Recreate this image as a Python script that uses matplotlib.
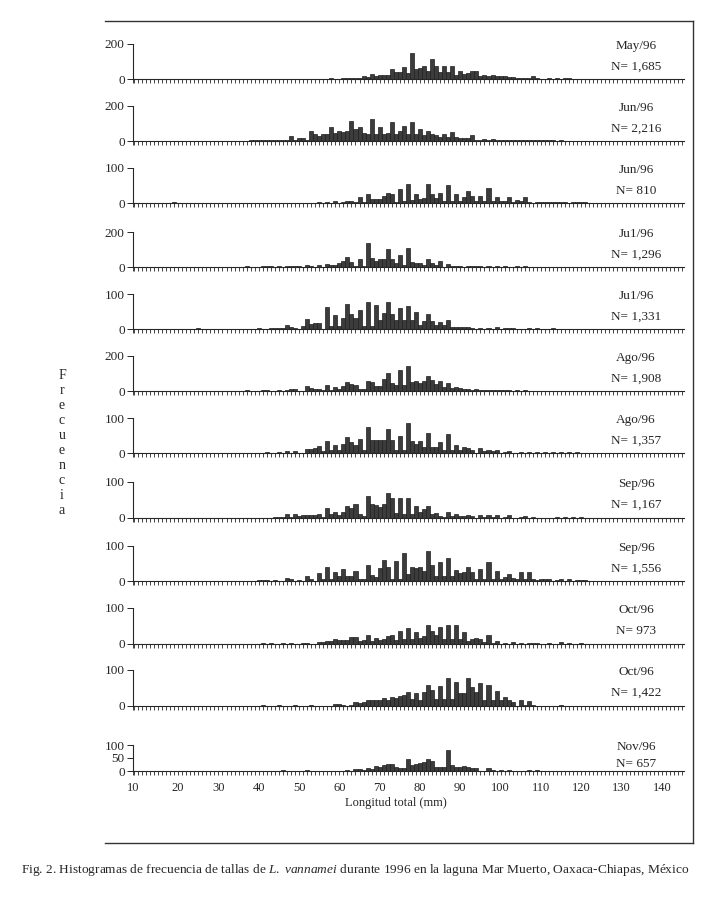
import numpy as np
import matplotlib.pyplot as plt
from matplotlib.ticker import MultipleLocator
from matplotlib.lines import Line2D

plt.rcParams['font.family'] = ['Liberation Serif', 'DejaVu Serif']
plt.rcParams['mathtext.fontset'] = 'custom'
plt.rcParams['mathtext.rm'] = 'Liberation Serif'
plt.rcParams['mathtext.it'] = 'Liberation Serif:italic'

# longitud total (mm), una clase por mm, de 10 a 125
longitud = np.arange(10, 126)

# frecuencias por clase de talla (filas de 10 mm)
may96 = [0,0,0,0,0,0,0,0,0,0, 0,0,0,0,0,0,0,0,0,0, 0,0,0,0,0,0,0,0,0,0,
         0,0,0,0,0,0,0,0,0,0, 0,0,0,0,0,0,2,2,5,2,
         2,4,5,3,5,5,15,10,28,18, 25,22,22,60,38,40,70,35,148,55,
         62,72,45,112,75,42,72,40,72,22, 45,30,35,45,45,18,22,15,25,15,
         20,15,10,14,6,5,3,3,18,3, 2,2,7,0,4,0,4,4,0,0, 0,2,0,0,0,0]
jun96a = [0,0,0,0,0,0,0,0,0,0, 0,0,0,0,0,0,0,0,0,0, 0,0,0,0,0,0,0,0,3,3,
          3,5,5,5,6,6,8,5,28,5, 18,16,8,60,38,30,42,40,80,45,
          60,50,60,115,68,78,45,40,125,40, 78,38,45,110,40,58,85,38,110,40,
          68,35,60,40,32,22,38,25,50,22, 18,18,15,32,8,8,10,6,14,5,
          4,5,4,5,3,4,3,4,3,3, 4,3,3,4,2,3,0,2,0,0, 0,0,0,0,0,0]
jun96b = [0,0,0,0,0,0,0,0,0,3, 0,0,0,0,0,0,0,0,0,0, 0,0,0,0,0,0,0,0,0,0,
          0,0,0,0,0,0,0,0,0,0, 0,0,0,0,0,2,0,4,0,5,
          0,3,5,7,3,18,3,25,11,11, 11,20,28,25,3,40,7,55,9,27,
          11,14,55,27,14,28,7,52,7,25, 7,16,35,20,7,20,5,42,7,16,
          7,7,16,4,9,5,16,4,0,3, 2,2,2,2,2,2,2,0,3,2, 2,2,0,0,0,0]
jul96a = [0,0,0,0,0,0,0,0,0,0, 0,0,0,0,0,0,0,0,0,0, 0,0,0,0,0,0,0,4,0,0,
          0,4,4,4,0,4,0,8,6,6, 6,0,12,3,0,10,0,16,14,14,
          24,36,55,28,8,46,8,140,52,36, 45,45,105,45,25,70,10,110,28,22,
          22,12,45,24,10,36,2,18,5,4, 4,0,6,4,4,4,0,4,0,3,
          0,3,0,0,4,0,3,0,0,0, 0,0,0,0,0,0,0,0,0,0, 0,0,0,0,0,0]
jul96b = [0,0,0,0,0,0,0,0,0,0, 0,0,0,0,0,3,0,0,0,0, 0,0,0,0,0,0,0,0,0,0,
          4,0,0,3,3,3,3,12,6,4, 0,8,30,15,18,18,0,62,8,40,
          8,32,72,44,32,55,8,76,8,68, 25,45,76,44,25,60,25,65,25,48,
          11,22,44,22,11,21,11,25,5,7, 7,7,6,4,0,4,0,3,0,5,
          0,3,3,3,0,0,0,3,0,3, 0,0,0,3,0,0,0,0,0,0, 0,0,0,0,0,0]
ago96a = [0,0,0,0,0,0,0,0,0,0, 0,0,0,0,0,0,0,0,0,0, 0,0,0,0,0,0,0,5,0,0,
          0,4,4,0,0,5,0,7,9,9, 0,0,30,16,14,14,6,35,8,22,
          9,27,50,40,35,14,10,56,50,31, 30,70,104,46,36,118,36,145,50,55,
          45,60,88,63,40,58,25,45,15,22, 15,10,14,8,12,8,5,4,6,3,
          4,3,3,0,3,0,3,0,0,0, 0,0,0,0,0,0,0,0,0,0, 0,0,0,0,0,0]
ago96b = [0,0,0,0,0,0,0,0,0,0, 0,0,0,0,0,0,0,0,0,0, 0,0,0,0,0,0,0,0,0,0,
          0,0,4,0,0,4,0,5,0,6, 0,0,11,11,14,20,5,34,8,22,
          8,25,46,32,23,41,8,73,38,36, 36,36,68,38,8,50,8,86,34,26,
          35,17,58,18,18,32,8,55,8,22, 8,17,14,8,0,15,6,9,6,8,
          0,4,5,0,0,4,0,3,0,3, 0,2,0,2,0,2,0,2,0,2, 0,0,0,0,0,0]
sep96a = [0,0,0,0,0,0,0,0,0,0, 0,0,0,0,0,0,0,0,0,0, 0,0,0,0,0,0,0,0,0,0,
          0,0,0,0,3,3,3,11,4,11, 5,7,7,8,8,11,4,27,11,18,
          9,18,34,29,38,11,5,62,40,36, 30,40,70,56,14,56,11,56,11,32,
          18,24,34,11,14,6,4,18,5,11, 5,6,7,5,0,9,4,7,4,7,
          0,4,7,0,0,3,5,0,3,0, 0,0,0,0,3,0,3,0,3,0, 3,0,0,0,0,0]
sep96b = [0,0,0,0,0,0,0,0,0,0, 0,0,0,0,0,0,0,0,0,0, 0,0,0,0,0,0,0,0,0,0,
          3,3,3,0,4,0,0,8,5,0, 3,0,15,7,0,23,5,39,5,27,
          14,34,14,14,30,5,5,45,18,11, 36,59,39,5,56,5,80,20,41,38,
          41,30,86,45,14,53,14,66,14,32, 23,27,41,27,5,34,5,53,5,29,
          5,11,21,9,5,27,5,25,5,3, 5,6,6,0,3,5,0,5,0,2, 2,2,0,0,0,0]
oct96a = [0,0,0,0,0,0,0,0,0,0, 0,0,0,0,0,0,0,0,0,0, 0,0,0,0,0,0,0,0,0,0,
          0,4,0,4,0,0,4,0,4,0, 0,4,4,0,0,5,6,8,8,13,
          11,11,12,19,19,9,10,26,9,18, 11,15,22,26,12,35,15,44,13,32,
          18,22,53,35,26,46,15,53,15,54, 15,33,9,13,18,13,5,26,4,9,
          0,4,0,6,0,4,0,3,3,3, 0,0,4,0,0,6,0,3,0,0, 2,0,0,0,0,0]
oct96b = [0,0,0,0,0,0,0,0,0,0, 0,0,0,0,0,0,0,0,0,0, 0,0,0,0,0,0,0,0,0,0,
          0,3,0,0,0,3,0,0,0,2, 0,0,0,2,0,0,0,0,0,5,
          5,4,0,4,10,8,12,18,16,16, 18,21,17,24,21,27,30,40,20,36,
          16,39,59,44,20,55,20,79,20,66, 36,35,79,52,39,63,16,59,16,42,
          16,24,18,10,0,17,3,14,2,0, 0,0,0,0,0,3,0,0,0,0, 0,0,0,0,0,0]
nov96 = [0,0,0,0,0,0,0,0,0,0, 0,0,0,0,0,0,0,0,0,0, 0,0,0,0,0,0,0,0,0,0,
         0,0,0,0,0,0,2,0,0,0, 0,0,2,0,0,0,0,0,0,0,
         0,0,4,0,6,9,5,12,8,21, 17,24,26,27,17,10,12,48,24,27,
         31,34,47,37,15,17,17,80,24,15, 17,21,15,10,10,0,0,13,5,0,
         4,0,5,0,0,0,0,4,0,2, 0,0,0,0,0,0,0,0,0,0, 0,0,0,0,0,0]

series = [may96, jun96a, jun96b, jul96a, jul96b, ago96a, ago96b,
          sep96a, sep96b, oct96a, oct96b, nov96]
meses = ['May/96', 'Jun/96', 'Jun/96', 'Ju1/96', 'Ju1/96', 'Ago/96', 'Ago/96',
         'Sep/96', 'Sep/96', 'Oct/96', 'Oct/96', 'Nov/96']
n_txt = ['N= 1,685', 'N= 2,216', 'N= 810', 'N= 1,296', 'N= 1,331', 'N= 1,908',
         'N= 1,357', 'N= 1,167', 'N= 1,556', 'N= 973', 'N= 1,422', 'N= 657']
ymax = [200, 200, 100, 200, 100, 200, 100, 100, 100, 100, 100, 100]
xtick_lab = list(range(10, 150, 10))

W, H = 709, 910
# pixel rows of each panel: baseline and top of y axis
base_px = [79, 141, 203, 267, 329, 391, 453, 518, 581, 644, 706, 771]
top_px = [44, 106, 168, 232, 294, 356, 418, 482, 546, 608, 670, 745]
x0_px, x1_px = 133, 684

ink = '#262626'
fig = plt.figure(figsize=(W / 100, H / 100), dpi=100)

for i, vals in enumerate(series):
    b, t = base_px[i], top_px[i]
    ax = fig.add_axes([x0_px / W, 1 - b / H, (x1_px - x0_px) / W, (b - t) / H])
    ax.bar(longitud, vals, width=1.0, color='#3c3c3c', edgecolor='#1e1e1e', linewidth=0.5)
    ax.set_xlim(8.8, 145.5)
    ax.set_ylim(0, ymax[i])
    for s in ['top', 'right']:
        ax.spines[s].set_visible(False)
    for s in ['left', 'bottom']:
        ax.spines[s].set_linewidth(0.8)
        ax.spines[s].set_color(ink)
    if i == len(series) - 1:
        ax.set_yticks([0, 50, 100])
    else:
        ax.set_yticks([0, ymax[i]])
    ax.tick_params(axis='y', length=4, width=0.7, colors=ink, labelsize=9.5, pad=2)
    ax.xaxis.set_minor_locator(MultipleLocator(1))
    ax.tick_params(axis='x', which='both', length=3, width=0.6, colors=ink)
    pos = [8.9] + xtick_lab[1:]
    ax.set_xticks(pos)
    if i == len(series) - 1:
        ax.set_xticklabels([str(v) for v in xtick_lab], fontsize=9)
        ax.tick_params(axis='x', pad=5)
    else:
        ax.set_xticklabels([])
    ax.patch.set_alpha(0)

    dy = 17 if i == len(series) - 1 else 21
    fig.text(636 / W, 1 - (t + 2) / H, meses[i], ha='center', va='center',
             fontsize=9.5, color=ink)
    fig.text(636 / W, 1 - (t + 2 + dy) / H, n_txt[i], ha='center', va='center',
             fontsize=9.5, color=ink)

fig.text(396 / W, 1 - 803 / H, 'Longitud total (mm)', ha='center', va='center',
         fontsize=9, color=ink)
fig.text(62 / W, 1 - 443 / H, '\n'.join('Frecuencia'), ha='center', va='center',
         fontsize=10, linespacing=1.2, color=ink)

caption = (r'Fig. 2. Histogramas de frecuencia de tallas de $\mathit{L.\ vannamei}$'
           ' durante 1996 en la laguna Mar Muerto, Oaxaca-Chiapas, México')
fig.text(355 / W, 1 - 870 / H, caption, ha='center', va='center', fontsize=9.6, color=ink)

# marco
frame = [((105, 21), (693, 21)), ((693, 21), (693, 843)), ((105, 843), (693, 843))]
for (xa, ya), (xb, yb) in frame:
    fig.add_artist(Line2D([xa / W, xb / W], [1 - ya / H, 1 - yb / H],
                          transform=fig.transFigure, color='#333333', linewidth=1.0))

fig.savefig('out.png', dpi=100)
